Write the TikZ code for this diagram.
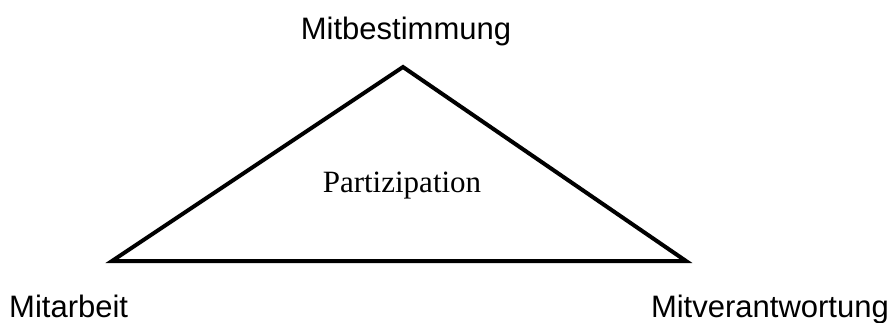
\documentclass[tikz,border=0pt]{standalone}
\usepackage{fontspec}
\setmainfont{Liberation Serif}
\newfontfamily\arialfont{Liberation Sans}
\begin{document}
\begin{tikzpicture}[x=1pt,y=-1pt,
  corner/.style={font=\arialfont\fontsize{31}{37}\selectfont, inner sep=0pt, anchor=base},
  centre/.style={font=\fontsize{31}{37}\selectfont, inner sep=0pt, anchor=base},
  edge/.style={draw=black, line width=4pt, line join=miter}]
\useasboundingbox (0,0) rectangle (894,323);
\coordinate (top) at (403,67);
\coordinate (left) at (112,261);
\coordinate (right) at (686,261);
\draw[edge] (top) -- (left) -- (right) -- cycle;
\node[centre] (part) at (402,193) {Partizipation};
\node[corner] (mb) at (406,40) {Mitbestimmung};
\node[corner, anchor=base west] (ma) at (9,317) {Mitarbeit};
\node[corner, anchor=base east] (mv) at (889,317) {Mitverantwortung};
\end{tikzpicture}
\end{document}
